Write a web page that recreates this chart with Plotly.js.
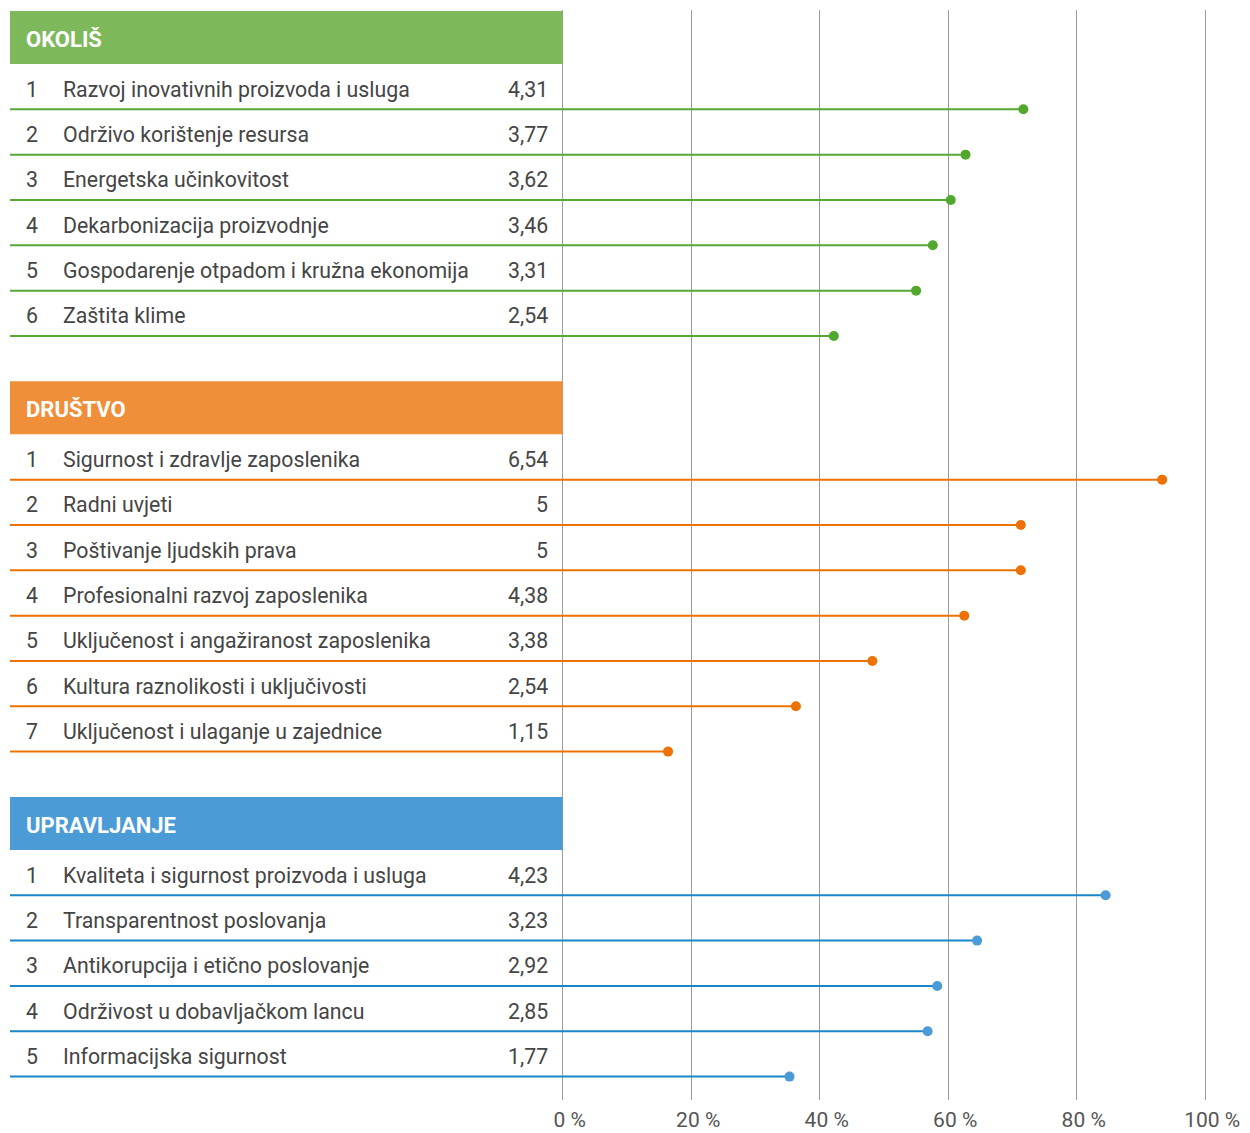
<!DOCTYPE html>
<html>
<head>
<meta charset="utf-8">
<script src="https://cdn.plot.ly/plotly-3.0.1.min.js"></script>
<style>html,body{margin:0;padding:0;background:#fff;}#chart{width:1250px;height:1133px;}</style>
</head>
<body>
<div id="chart"></div>
<script>
// ---- data ----
const sectionTitles = ['OKOLIŠ', 'DRUŠTVO', 'UPRAVLJANJE'];

const okolisLabels = ['Razvoj inovativnih proizvoda i usluga', 'Održivo korištenje resursa', 'Energetska učinkovitost',
  'Dekarbonizacija proizvodnje', 'Gospodarenje otpadom i kružna ekonomija', 'Zaštita klime'];
const okolisScores = [4.31, 3.77, 3.62, 3.46, 3.31, 2.54];
const okolisPct = [71.7, 62.7, 60.4, 57.6, 55.0, 42.2];

const drustvoLabels = ['Sigurnost i zdravlje zaposlenika', 'Radni uvjeti', 'Poštivanje ljudskih prava',
  'Profesionalni razvoj zaposlenika', 'Uključenost i angažiranost zaposlenika', 'Kultura raznolikosti i uključivosti',
  'Uključenost i ulaganje u zajednice'];
const drustvoScores = [6.54, 5, 5, 4.38, 3.38, 2.54, 1.15];
const drustvoPct = [93.3, 71.3, 71.3, 62.5, 48.2, 36.3, 16.4];

const upravljanjeLabels = ['Kvaliteta i sigurnost proizvoda i usluga', 'Transparentnost poslovanja',
  'Antikorupcija i etično poslovanje', 'Održivost u dobavljačkom lancu', 'Informacijska sigurnost'];
const upravljanjeScores = [4.23, 3.23, 2.92, 2.85, 1.77];
const upravljanjePct = [84.5, 64.5, 58.3, 56.8, 35.3];

const tickValues = [0, 20, 40, 60, 80, 100];
const tickLabels = ['0 %', '20 %', '40 %', '60 %', '80 %', '100 %'];

// ---- styling ----
const headerColors = ['#7db95b', '#ef8f39', '#4a9bd6'];
const lineColors = ['#56a833', '#ed7203', '#1a86c7'];
const dotColors = ['#52a82c', '#ed7203', '#4a9bd8'];
const FONT = 'Roboto, "Noto Sans", sans-serif';
const TEXT_COLOR = '#454545';
const TEXT_SIZE = 21.3;

// pixel geometry (plot area spans x 10..1240, y 10..1100)
const W = 1250, H = 1133;
const PL = 10, PR = 1240, PT = 10, PB = 1100;
const ZERO_PX = 562.7, PX_PER_PCT = 6.425;
const XMIN = (PL - ZERO_PX) / PX_PER_PCT;
const XMAX = (PR - ZERO_PX) / PX_PER_PCT;
const px2x = p => (p - ZERO_PX) / PX_PER_PCT;

const TOP = 11, HEADER_H = 53, PITCH = 45.33;

const sections = [
  {labels: okolisLabels, scores: okolisScores, pct: okolisPct},
  {labels: drustvoLabels, scores: drustvoScores, pct: drustvoPct},
  {labels: upravljanjeLabels, scores: upravljanjeScores, pct: upravljanjePct}
];

const fmt = v => String(v).replace('.', ',');

const traces = [];
const shapes = [];
const annotations = [];
let cursor = TOP;

sections.forEach((sec, s) => {
  const hTop = cursor, hBot = cursor + HEADER_H;
  shapes.push({type: 'rect', xref: 'x', yref: 'y', x0: XMIN, x1: 0, y0: hTop, y1: hBot,
    fillcolor: headerColors[s], line: {width: 0}, layer: 'above'});
  annotations.push({x: px2x(24), y: (hTop + hBot) / 2 + 2, xref: 'x', yref: 'y', text: '<b>' + sectionTitles[s] + '</b>',
    showarrow: false, xanchor: 'left', yanchor: 'middle', font: {family: FONT, size: 22, color: '#ffffff'}});

  const lx = [], ly = [], mx = [], my = [];
  sec.labels.forEach((lab, i) => {
    const yLine = hBot + PITCH * (i + 1);
    const yText = yLine - 20;
    lx.push(XMIN, sec.pct[i], null);
    ly.push(yLine, yLine, null);
    mx.push(sec.pct[i]);
    my.push(yLine);
    annotations.push({x: px2x(24), y: yText, xref: 'x', yref: 'y', text: String(i + 1), showarrow: false,
      xanchor: 'left', yanchor: 'middle', font: {family: FONT, size: TEXT_SIZE, color: TEXT_COLOR}});
    annotations.push({x: px2x(61), y: yText, xref: 'x', yref: 'y', text: lab, showarrow: false,
      xanchor: 'left', yanchor: 'middle', font: {family: FONT, size: TEXT_SIZE, color: TEXT_COLOR}});
    annotations.push({x: px2x(550), y: yText, xref: 'x', yref: 'y', text: fmt(sec.scores[i]), showarrow: false,
      xanchor: 'right', yanchor: 'middle', font: {family: FONT, size: TEXT_SIZE, color: TEXT_COLOR}});
  });
  traces.push({x: lx, y: ly, mode: 'lines', line: {color: lineColors[s], width: 2},
    hoverinfo: 'skip', showlegend: false, cliponaxis: false});
  traces.push({x: mx, y: my, mode: 'markers', marker: {color: dotColors[s], size: 10},
    showlegend: false, cliponaxis: false});
  cursor = hBot + PITCH * (sec.labels.length + 1);
});

const layout = {
  width: W, height: H,
  margin: {l: PL, r: W - PR, t: PT, b: H - PB},
  paper_bgcolor: '#ffffff', plot_bgcolor: '#ffffff',
  showlegend: false,
  xaxis: {range: [XMIN, XMAX], tickvals: tickValues, ticktext: tickLabels, showgrid: true,
    gridcolor: '#9c9c9c', gridwidth: 1, zeroline: false, showline: false, ticks: '',
    ticklabelshift: 7, ticklabelstandoff: 5, tickfont: {family: FONT, size: 21, color: '#555555'}, fixedrange: true},
  yaxis: {range: [PB, PT], visible: false, showgrid: false, zeroline: false, fixedrange: true},
  shapes: shapes,
  annotations: annotations
};

Plotly.newPlot('chart', traces, layout, {displayModeBar: false, staticPlot: true});
</script>
</body>
</html>
